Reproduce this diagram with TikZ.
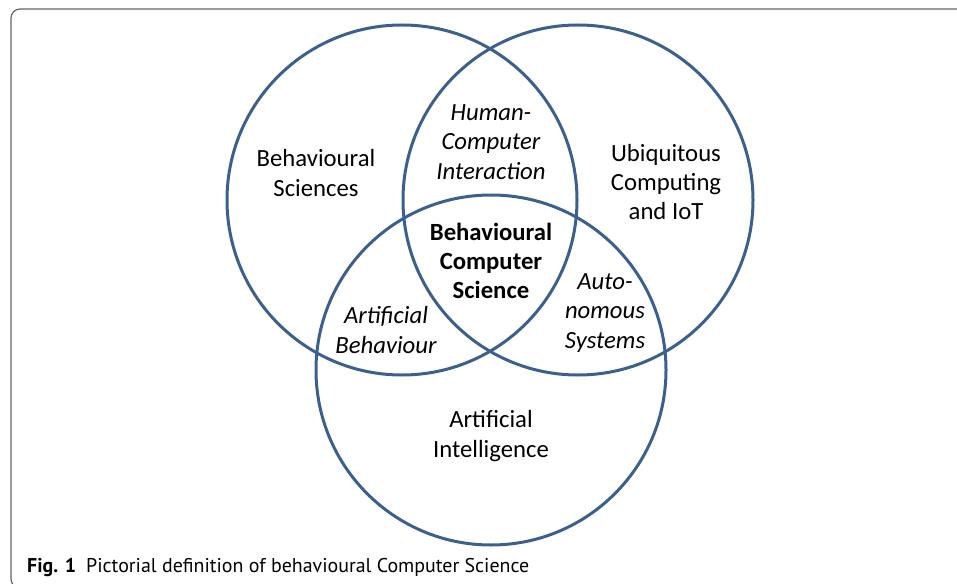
\documentclass[tikz,border=0pt]{standalone}
\usepackage{fontspec}
\setmainfont{Carlito}
\newfontfamily\capfont{PT Sans}
\usepackage{tikz}
\usetikzlibrary{positioning}

\definecolor{vennblue}{RGB}{60,96,142}

\begin{document}
\begin{tikzpicture}[
    x=1bp, y=-1bp,
    venn/.style={circle, draw=vennblue, line width=3bp, minimum size=350bp, inner sep=0pt},
    label/.style={align=center, inner sep=0pt, font=\fontsize{24.8}{29.3}\selectfont},
    overlap/.style={label, font=\fontsize{24.8}{29.3}\selectfont\itshape},
    core/.style={label, font=\fontsize{24.8}{29.3}\selectfont\bfseries}
]
    \useasboundingbox (0,0) rectangle (957,584);
    \clip (0,0) rectangle (957,584);

    % frame round the figure
    \draw[gray!80!black, line width=1.2bp, rounded corners=9bp] (11,9) rectangle (990,588);

    % the three fields
    \node (bs) [venn] at (402,200) {};
    \node (uc) [venn] at (578,200) {};
    \node (ai) [venn] at (491,370) {};

    \node (bstext) [label] at (316,173) {Behavioural\\Sciences};
    \node (uctext) [label] at (666,182) {Ubiquitous\\Computing\\and IoT};
    \node (aitext) [label] at (491,436) {Artificial\\Intelligence};

    % the overlaps
    \node (hci) [overlap] at (491,142) {Human-\\Computer\\Interaction};
    \node (ab) [overlap] at (386,330) {Artificial\\Behaviour};
    \node (as) [overlap] at (605,313) {Auto-\\nomous\\Systems};
    \node (bcs) [core] at (491,261) {Behavioural\\Computer\\Science};

    \node (caption) [anchor=base west, inner sep=0pt, font=\capfont\fontsize{20}{23}\selectfont] at (27,572)
        {\textbf{Fig. 1}\hspace{0.5em}Pictorial definition of behavioural Computer Science};
\end{tikzpicture}
\end{document}
